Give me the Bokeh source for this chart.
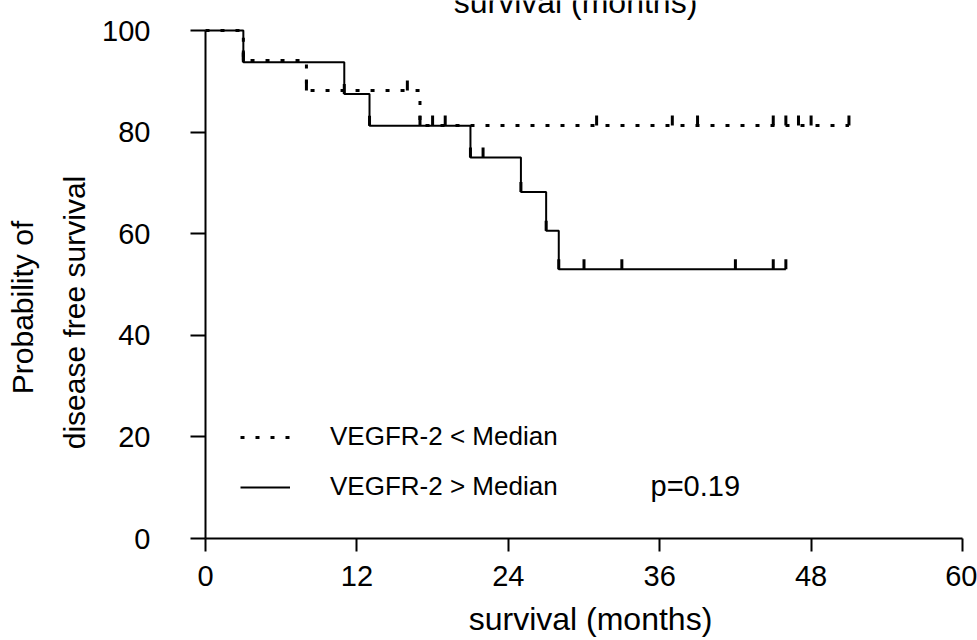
import math
from bokeh.plotting import figure
from bokeh.models import Label, Legend, LegendItem, FixedTicker, Range1d
from bokeh.embed import file_html
from bokeh.resources import INLINE

# ---------------- data ----------------
month_ticks = [0, 12, 24, 36, 48, 60]
pct_ticks = [0, 20, 40, 60, 80, 100]

# VEGFR-2 < Median (dotted)
low_time = [0, 3, 8, 17, 51]
low_surv = [100, 94.1, 88.2, 81.3, 81.3]
low_cens_time = [16, 18, 19, 31, 37, 39, 45, 46, 47, 48, 51]
low_cens_surv = [88.2, 81.3, 81.3, 81.3, 81.3, 81.3, 81.3, 81.3, 81.3, 81.3, 81.3]

# VEGFR-2 > Median (solid)
high_time = [0, 3, 11, 13, 21, 25, 27, 28, 46]
high_surv = [100, 93.75, 87.5, 81.25, 75.0, 68.2, 60.6, 53.0, 53.0]
high_cens_time = [22, 30, 33, 42, 45, 46]
high_cens_surv = [75.0, 53.0, 53.0, 53.0, 53.0, 53.0]

label_low = "VEGFR-2 < Median"
label_high = "VEGFR-2 > Median"
p_text = "p=0.19"
x_title = "survival (months)"
y_title_1 = "Probability of"
y_title_2 = "disease free survival"

# ---------------- layout / styling (pixels) ----------------
FONT = "Liberation Sans"
W, H = 977, 640
AX_LEFT, AX_RIGHT = 205, 962      # canvas x of first / last month tick
AX_TOP, AX_BOTTOM = 30, 538       # canvas y of 100 % / 0 %
PX_PER_MONTH = (AX_RIGHT - AX_LEFT) / (month_ticks[-1] - month_ticks[0])
PX_PER_PCT = (AX_BOTTOM - AX_TOP) / (pct_ticks[-1] - pct_ticks[0])
x_lo = month_ticks[0] - AX_LEFT / PX_PER_MONTH
x_hi = month_ticks[-1] + (W - AX_RIGHT) / PX_PER_MONTH
y_lo = pct_ticks[0] - (H - AX_BOTTOM) / PX_PER_PCT
y_hi = pct_ticks[-1] + AX_TOP / PX_PER_PCT
TICK_PX = 10
tick_shift = (TICK_PX / 2) / PX_PER_PCT   # lift tick so it rises from the line

p = figure(width=W, height=H, output_backend="svg", toolbar_location=None,
           x_range=Range1d(x_lo, x_hi), y_range=Range1d(y_lo, y_hi), min_border=0)
p.outline_line_color = None
p.grid.visible = False
p.background_fill_color = "white"
p.border_fill_color = "white"

for ax in (p.xaxis[0], p.yaxis[0]):
    ax.fixed_location = 0
    ax.axis_line_width = 2
    ax.axis_line_color = "black"
    ax.major_tick_line_width = 2
    ax.major_tick_line_color = "black"
    ax.major_tick_in = 0
    ax.minor_tick_line_color = None
    ax.major_label_text_font = FONT
    ax.major_label_text_font_size = "29px"
    ax.major_label_text_color = "black"

p.xaxis[0].ticker = FixedTicker(ticks=month_ticks)
p.yaxis[0].ticker = FixedTicker(ticks=pct_ticks)
p.xaxis[0].bounds = (month_ticks[0], month_ticks[-1])
p.yaxis[0].bounds = (pct_ticks[0], pct_ticks[-1])
p.xaxis[0].major_tick_out = 13
p.yaxis[0].major_tick_out = 15
p.xaxis[0].major_label_standoff = 14
p.yaxis[0].major_label_standoff = 40

# curves
low_line = p.step(low_time, low_surv, mode="after", line_color="black",
                  line_width=3, line_dash="4 11")
high_line = p.step(high_time, high_surv, mode="after", line_color="black",
                   line_width=2)

# tick symbols at every event and censored point
low_tx = low_time[1:-1] + low_cens_time
low_ty = [v + tick_shift for v in (low_surv[1:-1] + low_cens_surv)]
high_tx = high_time[1:-1] + high_cens_time
high_ty = [v + tick_shift for v in (high_surv[1:-1] + high_cens_surv)]

p.scatter(low_tx, low_ty, marker="dash", angle=math.pi / 2,
          size=TICK_PX, line_color="black", line_width=3)
p.scatter(high_tx, high_ty, marker="dash", angle=math.pi / 2,
          size=TICK_PX, line_color="black", line_width=3)

legend = Legend(items=[LegendItem(label=label_low, renderers=[low_line]),
                       LegendItem(label=label_high, renderers=[high_line])],
                location=(240, 138), glyph_width=50, glyph_height=30, label_height=30,
                label_standoff=40, spacing=19, padding=0, margin=0,
                border_line_alpha=0, background_fill_alpha=0,
                label_text_font=FONT, label_text_font_size="26px",
                label_text_color="black")
p.add_layout(legend)


def screen_label(text, x, y_from_top, size, angle=0, align="center", baseline="middle"):
    p.add_layout(Label(x=x, y=H - y_from_top, x_units="screen", y_units="screen",
                       text=text, angle=angle, angle_units="deg",
                       text_font=FONT, text_font_size=size, text_color="black",
                       text_align=align, text_baseline=baseline))


screen_label(p_text, 650, 485, "29px", align="left")
screen_label(x_title, 590, 618, "32px")
screen_label(y_title_1, 22, 307, "30px", angle=90)
screen_label(y_title_2, 74, 312, "30px", angle=90)
# duplicate title, cut by the top edge of the picture as in the reference
screen_label(x_title, 575, 1, "32px", baseline="alphabetic")

open("out.html", "w").write(file_html(p, INLINE))
